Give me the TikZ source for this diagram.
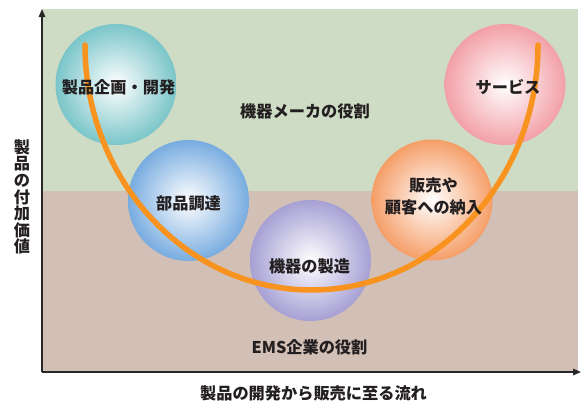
\documentclass[tikz,border=0pt]{standalone}
\usepackage{fontspec}
\newfontfamily\jp{Noto Sans CJK JP}
\usetikzlibrary{arrows.meta}
\definecolor{bggreen}{RGB}{206,220,197}
\definecolor{bgbrown}{RGB}{210,191,181}
\definecolor{curveor}{RGB}{247,147,30}
\definecolor{txt}{RGB}{35,31,32}
\definecolor{axisc}{RGB}{40,40,40}
\definecolor{cteal}{RGB}{122,197,201}
\definecolor{cblue}{RGB}{120,172,224}
\definecolor{cpurple}{RGB}{166,160,212}
\definecolor{corange}{RGB}{245,158,104}
\definecolor{cpink}{RGB}{242,160,167}
\tikzset{
  ball/.style={circle, minimum size=121pt, inner sep=0pt, shading=radial, inner color=white, outer color=#1},
  lbl/.style={font=\jp\bfseries\fontsize{16.2pt}{22pt}\selectfont, text=txt, inner sep=0pt, align=center},
  axisline/.style={draw=axisc, line width=1.4pt, -{Triangle[length=8pt,width=6.5pt]}},
  valuecurve/.style={draw=curveor, line width=5.5pt, line cap=round}
}
\begin{document}
\begin{tikzpicture}[x=1pt,y=-1pt]
\useasboundingbox (0,0) rectangle (585,402);
% backgrounds
\fill[bggreen] (42,9) rectangle (578,191);
\fill[bgbrown] (42,191) rectangle (578,372);
% axes
\coordinate (origin) at (42,372);
\coordinate (ytop) at (42,9);
\coordinate (xend) at (581,372);
\draw[axisline] (origin) -- (ytop);
\draw[axisline] (origin) -- (xend);
% circles
\node[ball=cteal] (c1) at (116,84.5) {};
\node[ball=cblue] (c2) at (188.5,200.5) {};
\node[ball=cpurple] (c3) at (310.5,260.5) {};
\node[ball=corange] (c4) at (432,200) {};
\node[ball=cpink] (c5) at (505,84.5) {};
% value curve
\coordinate (cstart) at (85,45);
\draw[valuecurve] (cstart) arc[start angle=180, end angle=360, x radius=226.5pt, y radius=245pt];
% labels
\node[lbl] (t1) at (118.5,87) {製品企画・開発};
\node[lbl] (t2) at (188.5,203) {部品調達};
\node[lbl] (t3) at (309.5,266) {機器の製造};
\node[lbl] (t4) at (433.5,196) {販売や\\顧客への納入};
\node[lbl] (t5) at (508,87) {サービス};
\node[lbl] (r1) at (305,111) {機器メーカの役割};
\node[lbl] (r2) at (309.5,347) {EMS企業の役割};
\node[lbl] (xl) at (313.5,393) {製品の開発から販売に至る流れ};
\node[lbl, font=\jp\bfseries\fontsize{16.2pt}{16.6pt}\selectfont] (yl) at (22,197) {製\\品\\の\\付\\加\\価\\値};
\end{tikzpicture}
\end{document}
